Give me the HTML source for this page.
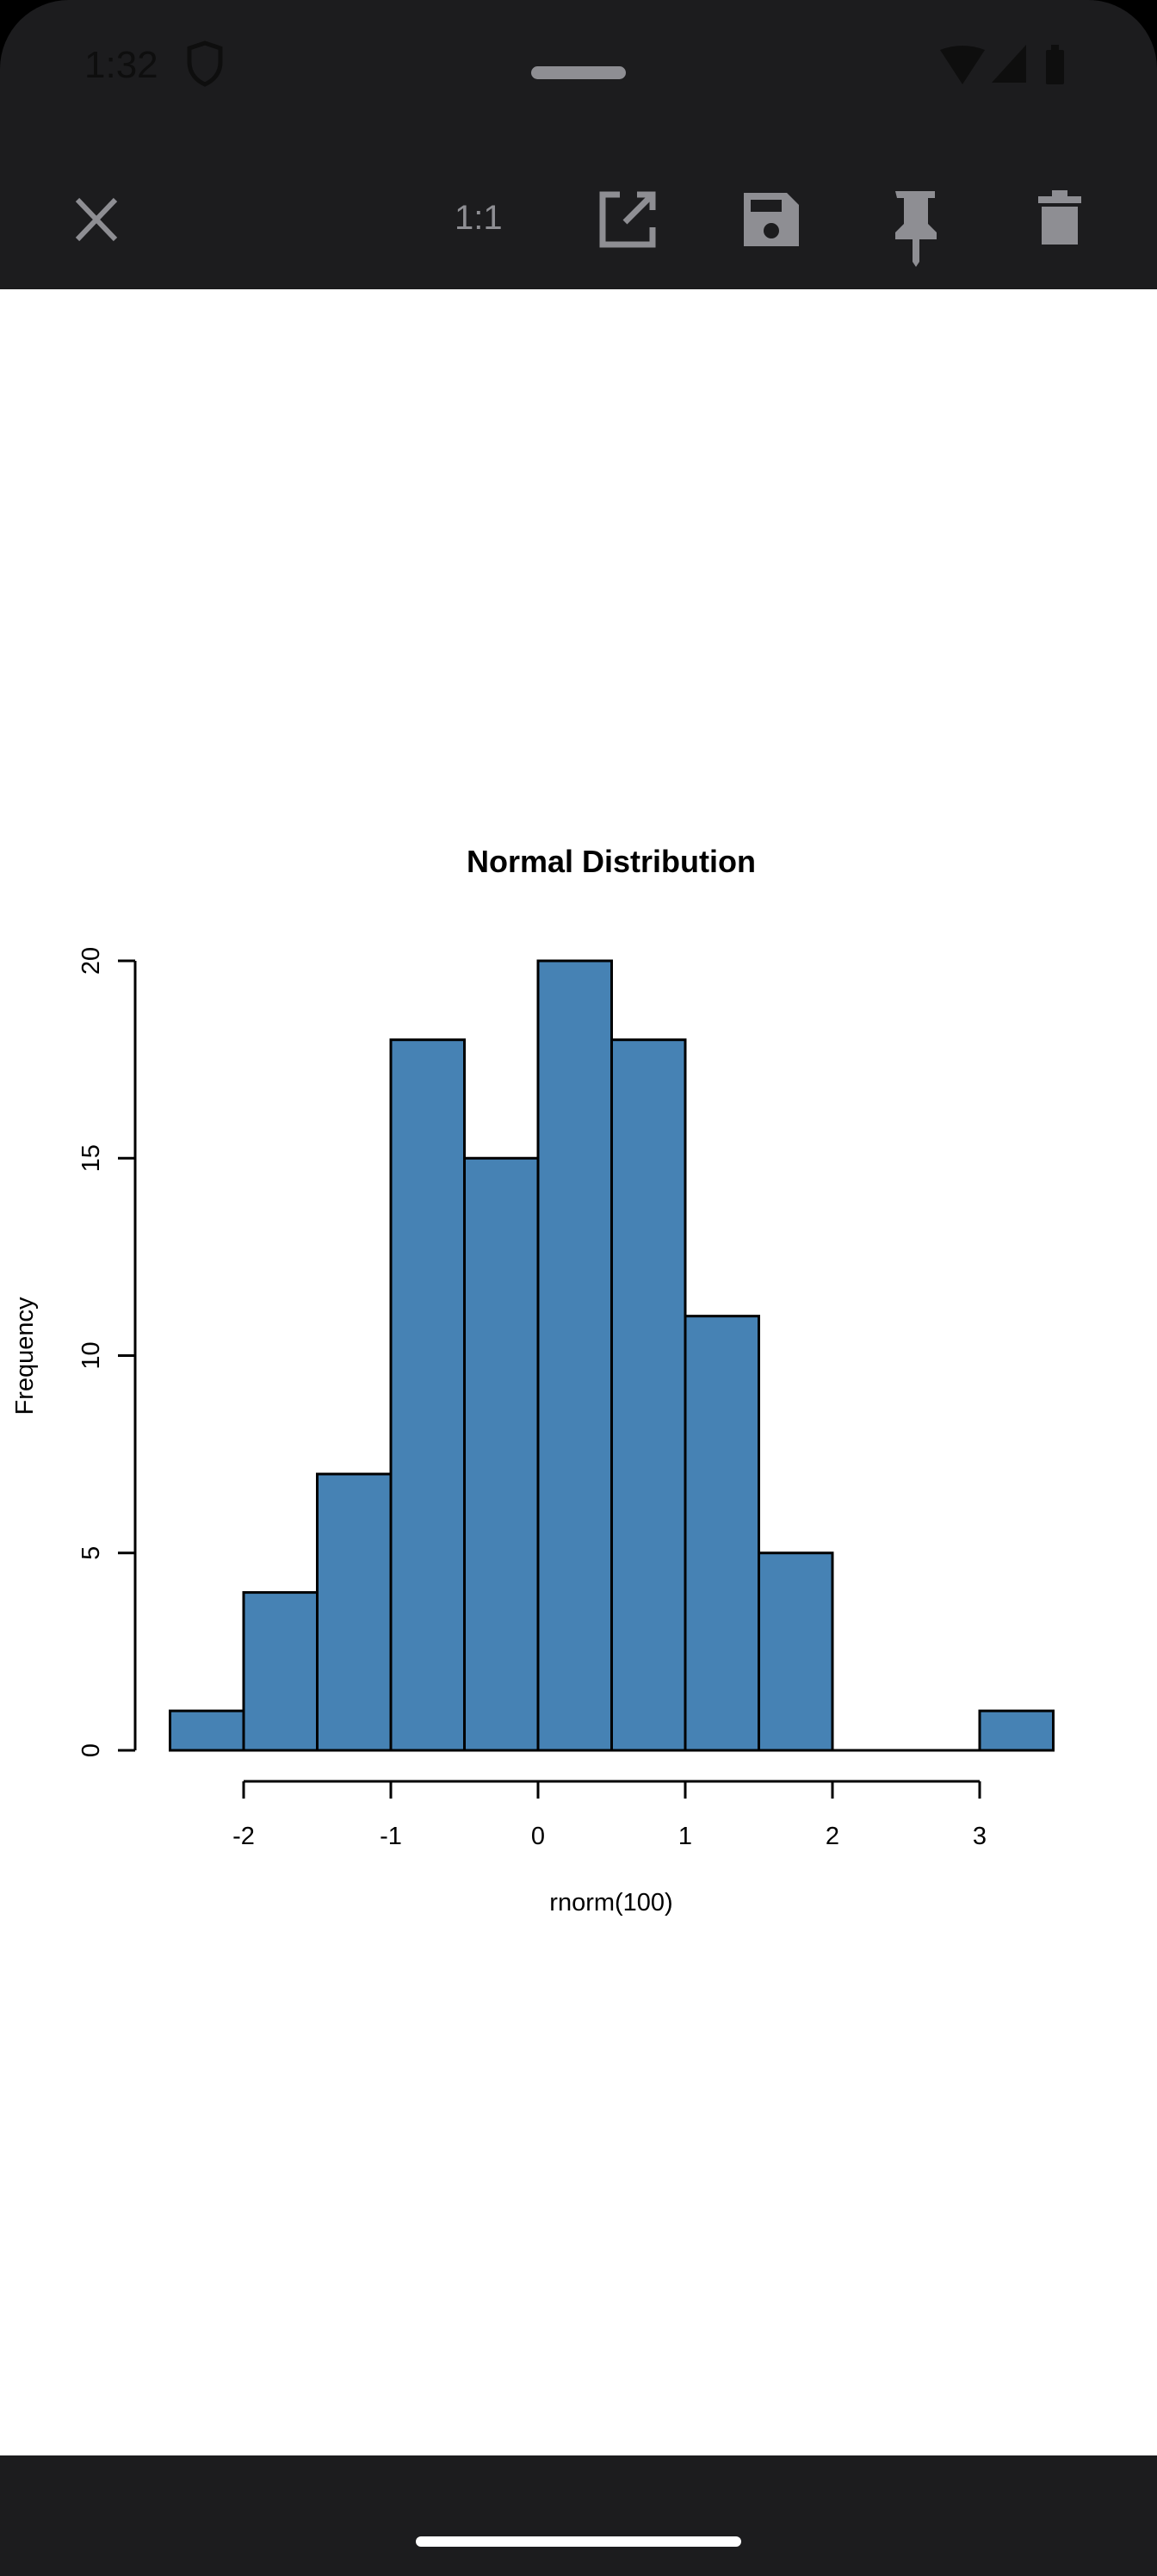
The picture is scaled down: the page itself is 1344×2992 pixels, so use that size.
<!DOCTYPE html>
<html><head><meta charset="utf-8"><style>
html,body{margin:0;padding:0;background:#000;}
body{width:1344px;height:2992px;position:relative;overflow:hidden;font-family:"Liberation Sans",sans-serif;}
.top{position:absolute;left:0;top:0;width:1344px;height:336px;background:#1c1c1e;border-radius:80px 80px 0 0;}
.main{position:absolute;left:0;top:336px;width:1344px;height:2516px;background:#fff;}
.bot{position:absolute;left:0;top:2852px;width:1344px;height:140px;background:#1c1c1e;}
</style></head><body>
<div class="top">
<svg width="1344" height="336" style="position:absolute;left:0;top:0">
<text x="98" y="90" font-size="44" fill="#0e0e0e" font-family="Liberation Sans">1:32</text>
<path d="M220 56 l18 -6 l18 6 v16 c0 14 -9 22 -18 26 c-9 -4 -18 -12 -18 -26z" fill="none" stroke="#0e0e0e" stroke-width="5"/>
<rect x="617" y="77" width="110" height="15" rx="7.5" fill="#8e8e93"/>
<path d="M1092 58 q26 -10 52 0 l-26 40z" fill="#0e0e0e"/>
<path d="M1152 96 l40 -44 v44z" fill="#0e0e0e"/>
<rect x="1215" y="58" width="21" height="40" rx="2" fill="#0e0e0e"/><rect x="1221" y="52" width="9" height="8" fill="#0e0e0e"/>
<path d="M90 232 L134 278 M134 232 L90 278" stroke="#8e8e93" stroke-width="6"/>
<text x="528" y="266" font-size="40" fill="#8e8e93" font-family="Liberation Sans">1:1</text>
<path d="M720 226 h-20 v58 h58 v-20" fill="none" stroke="#8e8e93" stroke-width="7"/>
<path d="M740 226 h18 v18 M756 228 l-30 30" fill="none" stroke="#8e8e93" stroke-width="7"/>
<path d="M864 224 h50 l14 14 v48 h-64z" fill="#8e8e93"/><rect x="872" y="232" width="36" height="14" fill="#1c1c1e"/><circle cx="896" cy="268" r="9" fill="#1c1c1e"/>
<path d="M1040 222 h46 v8 h-8 v30 l10 10 v8 h-20 v26 l-4 6 l-4 -6 v-26 h-20 v-8 l10 -10 v-30 h-8z" fill="#8e8e93"/>
<rect x="1206" y="228" width="50" height="8" fill="#8e8e93"/><rect x="1222" y="221" width="18" height="8" fill="#8e8e93"/>
<path d="M1210 240 h42 v44 h-42z" fill="#8e8e93"/>
</svg>
</div>
<div class="main"></div>
<svg width="1344" height="2992" style="position:absolute;left:0;top:0">
<text x="710" y="1013" font-size="36" font-weight="bold" text-anchor="middle" fill="#000">Normal Distribution</text>
<g fill="#4682b4" stroke="#000" stroke-width="3">
<rect x="197.5" y="1987.15" width="85.5" height="45.85"/>
<rect x="283" y="1849.6" width="85.5" height="183.4"/>
<rect x="368.5" y="1712.05" width="85.5" height="320.95"/>
<rect x="454" y="1207.7" width="85.5" height="825.3"/>
<rect x="539.5" y="1345.25" width="85.5" height="687.75"/>
<rect x="625" y="1116" width="85.5" height="917"/>
<rect x="710.5" y="1207.7" width="85.5" height="825.3"/>
<rect x="796" y="1528.65" width="85.5" height="504.35"/>
<rect x="881.5" y="1803.75" width="85.5" height="229.25"/>
<rect x="1138" y="1987.15" width="85.5" height="45.85"/>
</g>
<line x1="967" y1="2033" x2="1138" y2="2033" stroke="#000" stroke-width="3"/>
<g stroke="#000" stroke-width="3" fill="none">
<path d="M157 1116 V2033"/>
<path d="M137 1116 H157 M137 1345.25 H157 M137 1574.5 H157 M137 1803.75 H157 M137 2033 H157"/>
<path d="M283 2069 H1138"/>
<path d="M283 2069 v20 M454 2069 v20 M625 2069 v20 M796 2069 v20 M967 2069 v20 M1138 2069 v20"/>
</g>
<g font-size="29" fill="#000" text-anchor="middle">
<text x="283" y="2142">-2</text><text x="454" y="2142">-1</text><text x="625" y="2142">0</text>
<text x="796" y="2142">1</text><text x="967" y="2142">2</text><text x="1138" y="2142">3</text>
<text x="710" y="2219">rnorm(100)</text>
<text transform="translate(115,1116) rotate(-90)">20</text>
<text transform="translate(115,1345.25) rotate(-90)">15</text>
<text transform="translate(115,1574.5) rotate(-90)">10</text>
<text transform="translate(115,1803.75) rotate(-90)">5</text>
<text transform="translate(115,2033) rotate(-90)">0</text>
<text transform="translate(38,1575) rotate(-90)">Frequency</text>
</g>
</svg>
<div class="bot"><div style="position:absolute;left:483px;top:94px;width:378px;height:12px;border-radius:6px;background:#fff"></div></div>
</body></html>
